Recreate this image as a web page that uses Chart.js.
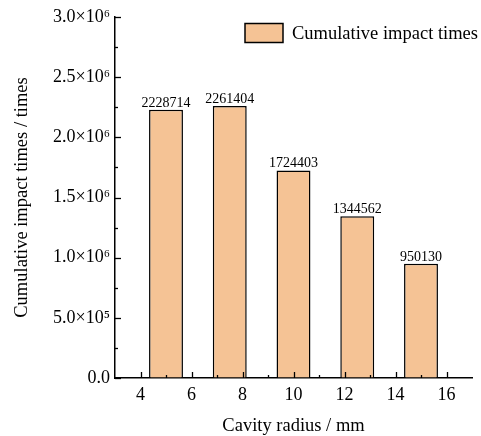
<!DOCTYPE html>
<html><head><meta charset="utf-8">
<script src="https://cdn.jsdelivr.net/npm/chart.js@4/dist/chart.umd.min.js"></script>
<style>html,body{margin:0;padding:0;background:#fff;}#wrap{width:481px;height:436px;}</style>
</head><body><div id="wrap"><canvas id="c" width="481" height="436"></canvas></div>
<script>
const radii = [5, 7.5, 10, 12.5, 15];
const impactTimes = [2228714, 2261404, 1724403, 1344562, 950130];
const xTicks = [4, 6, 8, 10, 12, 14, 16];
const yTicks = [0, 500000, 1000000, 1500000, 2000000, 2500000, 3000000];
const seriesName = 'Cumulative impact times';

const FONT = "'Liberation Serif','Times New Roman',serif";
const sup = {'0':'⁰','1':'¹','2':'²','3':'³','4':'⁴','5':'⁵','6':'⁶','7':'⁷','8':'⁸','9':'⁹'};
function sci(v){
  if (v === 0) return '0.0';
  const e = Math.floor(Math.log10(v));
  const m = v / Math.pow(10, e);
  return m.toFixed(1) + '×10' + String(e).split('').map(c=>sup[c]).join('');
}

const extras = {
  id: 'extras',
  afterDatasetsDraw(chart){
    const ctx = chart.ctx, xs = chart.scales.x, ys = chart.scales.y;
    const ca = chart.chartArea;
    ctx.save();
    ctx.strokeStyle = '#000'; ctx.lineWidth = 1.3;
    for (let v = 4; v <= 16; v++) {
      const px = Math.round(xs.getPixelForValue(v)) + 0.5;
      const len = (v % 2 === 0) ? 6 : 3;
      ctx.beginPath(); ctx.moveTo(px, ca.bottom); ctx.lineTo(px, ca.bottom - len); ctx.stroke();
    }
    for (let v = 0; v <= 3000000; v += 250000) {
      const py = Math.round(ys.getPixelForValue(v)) + 0.5;
      const len = (v % 500000 === 0) ? 6 : 3;
      ctx.beginPath(); ctx.moveTo(ca.left, py); ctx.lineTo(ca.left + len, py); ctx.stroke();
    }
    ctx.fillStyle = '#000';
    ctx.font = '14px ' + FONT;
    ctx.textAlign = 'center'; ctx.textBaseline = 'alphabetic';
    const meta = chart.getDatasetMeta(0);
    meta.data.forEach((bar, i) => {
      ctx.fillText(String(impactTimes[i]), bar.x, bar.y - 3);
    });
    const bx = 245, by = 23.5, bw = 38, bh = 19;
    ctx.fillStyle = '#F5C395';
    ctx.fillRect(bx, by, bw, bh);
    ctx.lineWidth = 1.5; ctx.strokeRect(bx, by, bw, bh);
    ctx.fillStyle = '#000';
    ctx.font = '18.5px ' + FONT;
    ctx.textAlign = 'left'; ctx.textBaseline = 'middle';
    ctx.fillText(seriesName, 292, by + bh/2 + 1);
    ctx.restore();
  }
};

new Chart(document.getElementById('c'), {
  type: 'bar',
  data: {
    datasets: [{
      label: seriesName,
      data: radii.map((r, i) => ({x: r, y: impactTimes[i]})),
      backgroundColor: '#F5C395',
      borderColor: '#000',
      borderWidth: 1.5,
      borderSkipped: 'bottom',
      barPercentage: 0.665,
      categoryPercentage: 1.0
    }]
  },
  options: {
    responsive: false,
    animation: false,
    devicePixelRatio: 1,
    layout: {padding: {left: 0, right: 9, top: 17, bottom: 0}},
    plugins: {legend: {display: false}, tooltip: {enabled: false}},
    scales: {
      x: {
        type: 'linear', min: 3, max: 17, offset: false,
        afterBuildTicks(s){ s.ticks = xTicks.map(v => ({value: v})); },
        afterFit(s){ s.height = 58; },
        grid: {display: true, drawOnChartArea: false, drawTicks: false},
        border: {display: true, color: '#000', width: 1.5},
        ticks: {font: {family: FONT, size: 18}, color: '#000', padding: 6, maxRotation: 0, autoSkip: false},
        title: {display: true, text: 'Cavity radius / mm', font: {family: FONT, size: 18.5}, color: '#000', padding: {top: 0, bottom: -1}}
      },
      y: {
        min: 0, max: 3000000,
        afterBuildTicks(s){ s.ticks = yTicks.map(v => ({value: v})); },
        afterFit(s){ s.width = 115; },
        grid: {display: true, drawOnChartArea: false, drawTicks: false},
        border: {display: true, color: '#000', width: 1.5},
        ticks: {font: {family: FONT, size: 18}, color: '#000', padding: 5, callback: v => sci(v)},
        title: {display: true, text: 'Cumulative impact times / times', font: {family: FONT, size: 18.5}, color: '#000', padding: {top: 11, bottom: 0}}
      }
    }
  },
  plugins: [extras]
});
</script></body></html>
